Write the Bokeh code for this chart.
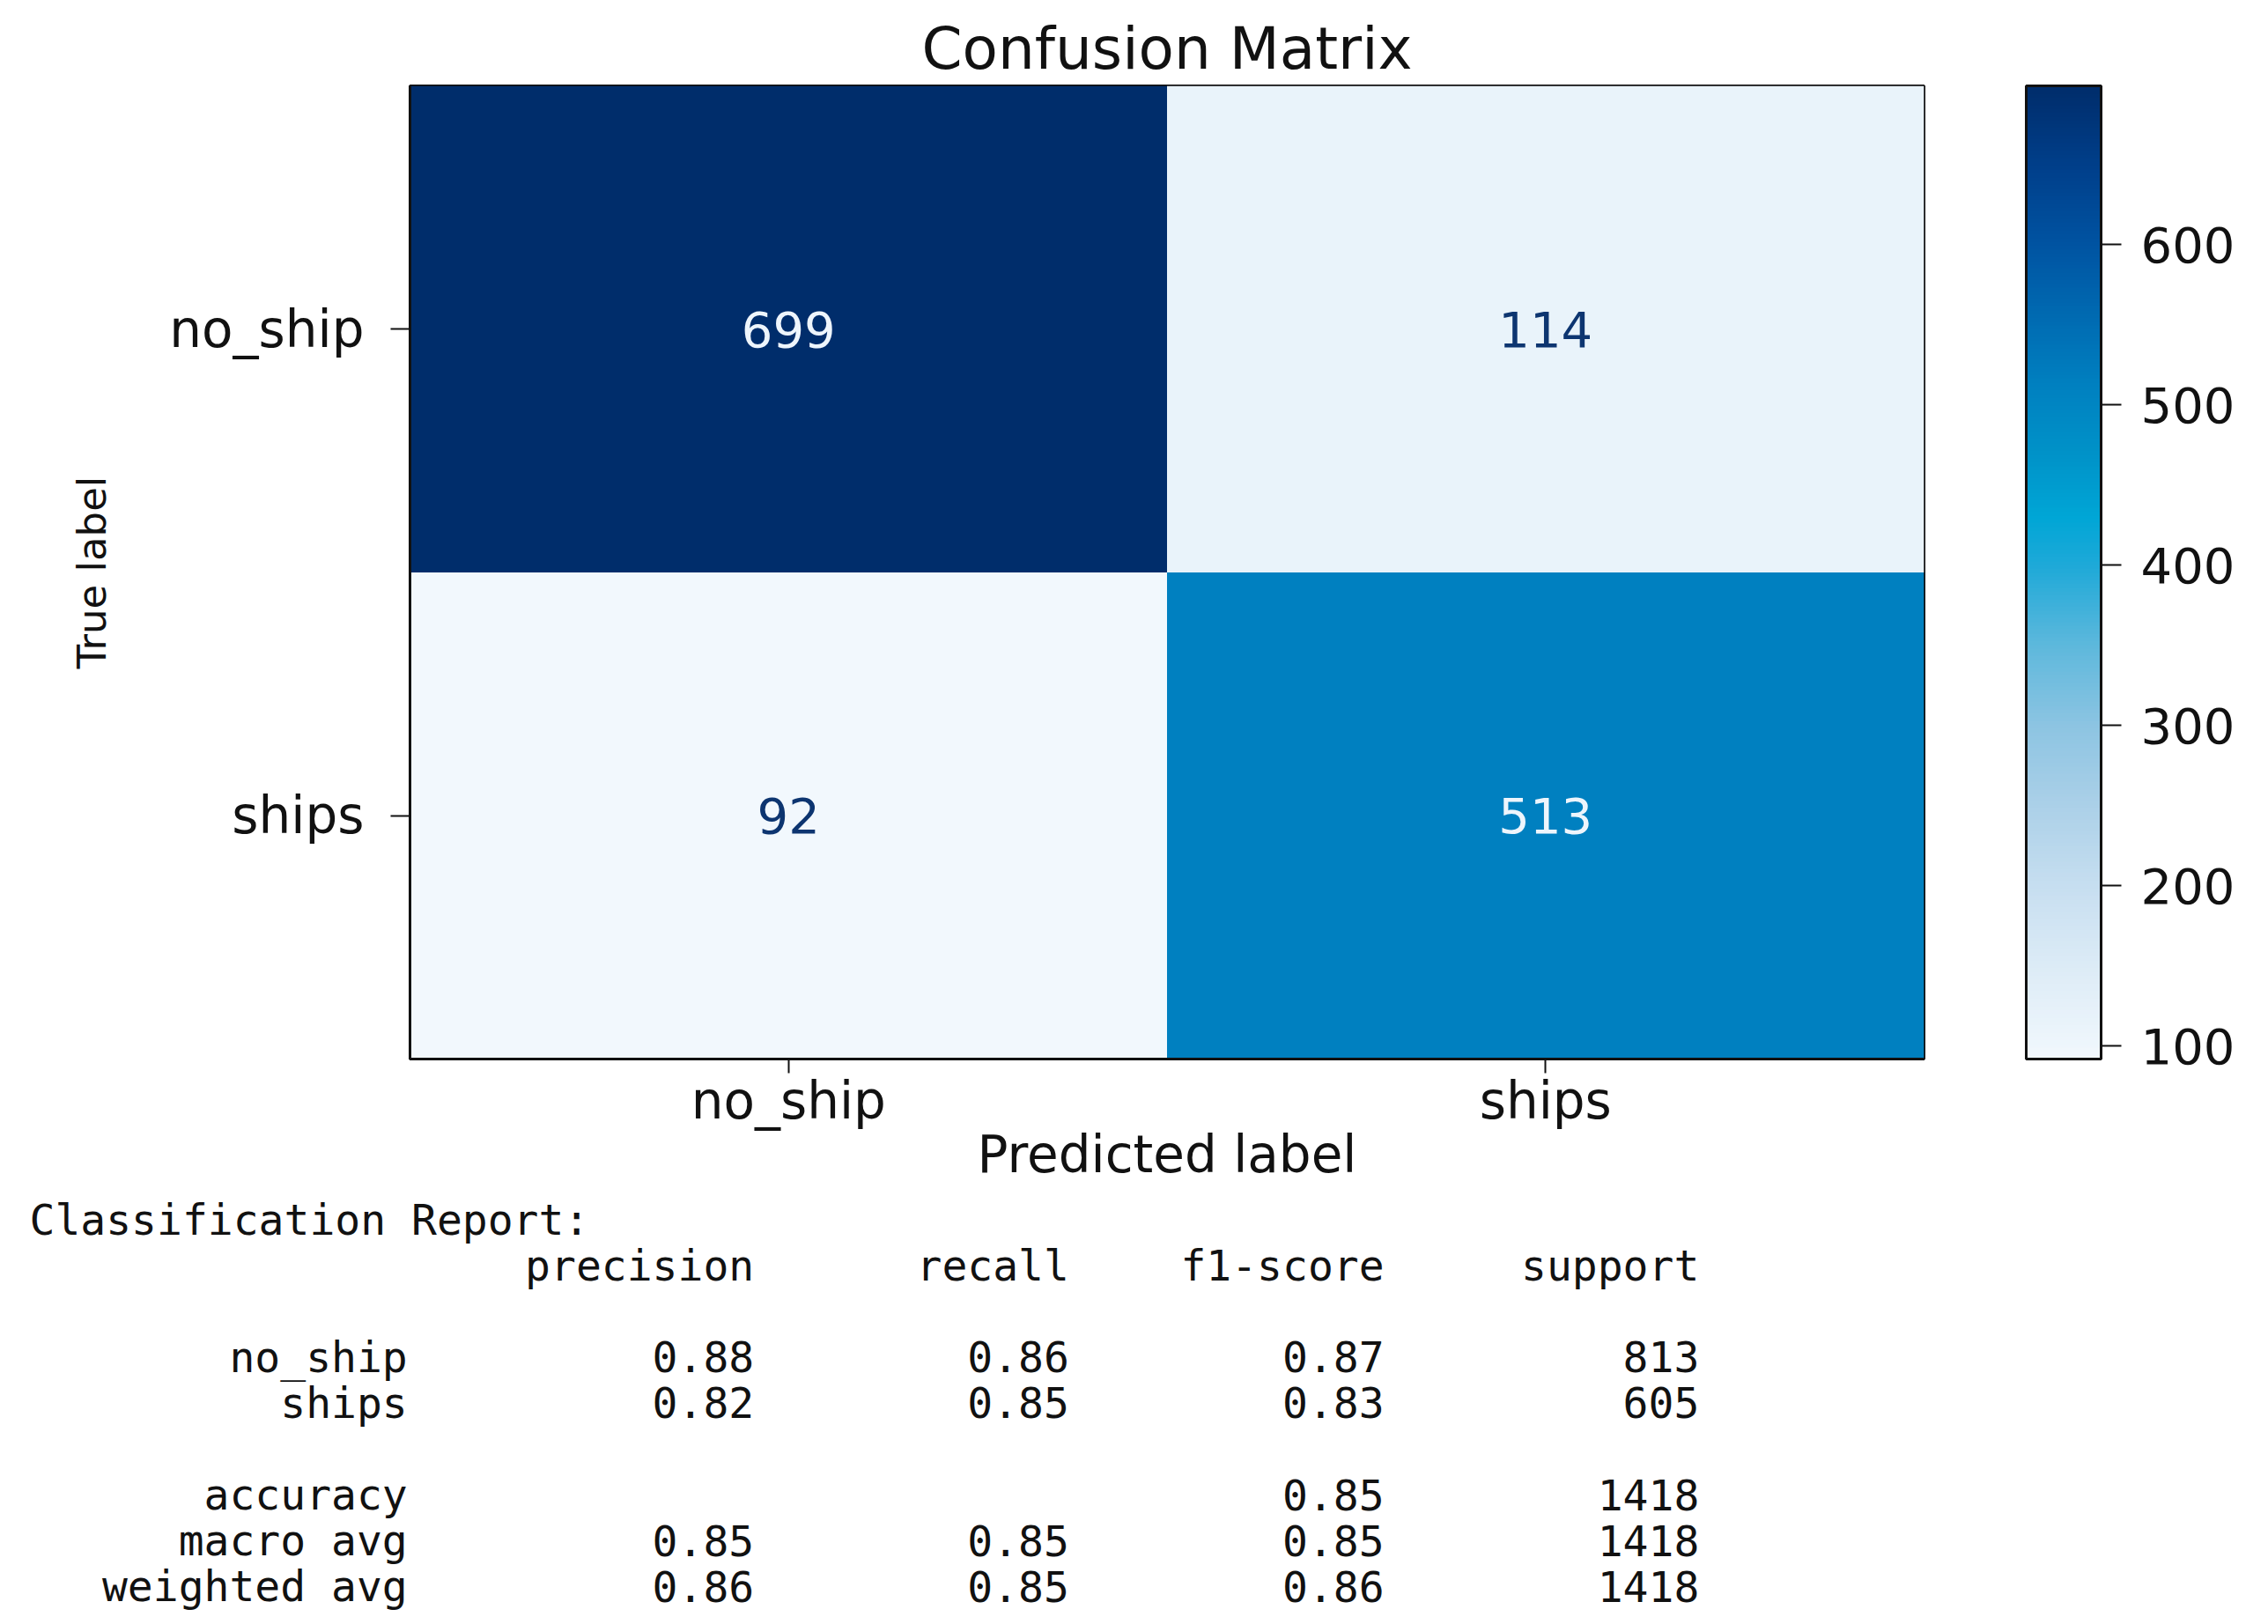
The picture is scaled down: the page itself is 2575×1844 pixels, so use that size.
import numpy as np
from bokeh.plotting import figure
from bokeh.models import (FactorRange, LinearColorMapper, ColorBar, FixedTicker,
                          ColumnDataSource, Range1d)
from bokeh.layouts import column, row
from bokeh.embed import file_html
from bokeh.resources import INLINE
from bokeh.core.properties import value

# ---------------- data ----------------
classes = ["no_ship", "ships"]
true_labels = ["no_ship", "no_ship", "ships", "ships"]
pred_labels = ["no_ship", "ships", "no_ship", "ships"]
counts = [699, 114, 92, 513]
cbar_ticks = [100, 200, 300, 400, 500, 600]

report_title = "Classification Report:"
report_headers = ["precision", "recall", "f1-score", "support"]
report_rows = ["no_ship", "ships", "accuracy", "macro avg", "weighted avg"]
report_line = [3, 4, 6, 7, 8]
precision = [0.88, 0.82, None, 0.85, 0.86]
recall = [0.86, 0.85, None, 0.85, 0.85]
f1_score = [0.87, 0.83, 0.85, 0.85, 0.86]
support = [813, 605, 1418, 1418, 1418]

# ---------------- colours ----------------
anchors = [(92, "#f2f8fd"), (100, "#eef6fc"), (150, "#dcebf6"), (200, "#c6def0"),
           (250, "#abd0e8"), (300, "#8cc4e2"), (350, "#5db8dc"), (400, "#1ea9d8"),
           (430, "#00a6d6"), (470, "#0092c8"), (513, "#0080c0"), (560, "#0068b0"),
           (600, "#0054a2"), (650, "#003f8a"), (699, "#002d6b")]
lo, hi = min(counts), max(counts)
av = [a[0] for a in anchors]
rgb = np.array([[int(c[i:i + 2], 16) for i in (1, 3, 5)] for _, c in anchors], dtype=float)
vals = np.linspace(lo, hi, 256)
palette = ["#%02x%02x%02x" % tuple(int(round(np.interp(v, av, rgb[:, k]))) for k in range(3))
           for v in vals]
mapper = LinearColorMapper(palette=palette, low=lo, high=hi)

thresh = (lo + hi) / 2.0
text_colors = ["#eef5fc" if c > thresh else "#0d3570" for c in counts]

FONT = value("DejaVu Sans")
MONO = value("DejaVu Sans Mono")
INK = "#111111"

src = ColumnDataSource(dict(pred=pred_labels, true=true_labels, count=counts,
                            label=[str(c) for c in counts], tcolor=text_colors))

P_H = 1350
p = figure(width=2567, height=P_H,
           x_range=FactorRange(*classes), y_range=FactorRange(*classes[::-1]),
           output_backend="svg", toolbar_location=None,
           min_border_left=465, min_border_right=383, min_border_top=97,
           min_border_bottom=148, title="Confusion Matrix")

p.rect(x="pred", y="true", width=1, height=1, source=src,
       fill_color={"field": "count", "transform": mapper}, line_color=None)
p.text(x="pred", y="true", text="label", text_color="tcolor", source=src,
       text_align="center", text_baseline="middle", text_font=FONT,
       text_font_size="56px")

p.title.align = "center"
p.title.text_font = "DejaVu Sans"
p.title.text_font_size = "66px"
p.title.text_font_style = "normal"
p.title.text_color = INK
p.title.standoff = 8

p.grid.grid_line_color = None
p.outline_line_color = INK
p.outline_line_width = 3
p.background_fill_color = "white"
p.border_fill_color = "white"

for ax in (p.xaxis[0], p.yaxis[0]):
    ax.axis_line_color = INK
    ax.axis_line_width = 3
    ax.major_tick_in = 0
    ax.major_tick_line_color = INK
    ax.major_tick_line_width = 2
    ax.major_label_text_font = "DejaVu Sans"
    ax.major_label_text_font_size = "58px"
    ax.major_label_text_color = INK
    ax.axis_label_text_font = "DejaVu Sans"
    ax.axis_label_text_font_style = "normal"
    ax.axis_label_text_color = INK

p.xaxis.axis_label = "Predicted label"
p.xaxis.axis_label_text_font_size = "58px"
p.xaxis.major_tick_out = 16
p.xaxis.major_label_standoff = -3
p.xaxis.axis_label_standoff = -10

p.yaxis.axis_label = "True label"
p.yaxis.axis_label_text_font_size = "45px"
p.yaxis.major_tick_out = 22
p.yaxis.major_label_standoff = 30
p.yaxis.axis_label_standoff = 58

cb = ColorBar(color_mapper=mapper, ticker=FixedTicker(ticks=cbar_ticks),
              width=85, height=1105, location=(116, 0), margin=0, padding=0,
              major_tick_out=23, major_tick_in=0, major_tick_line_color=INK,
              major_tick_line_width=2, minor_tick_line_color=None,
              label_standoff=22, major_label_text_font="DejaVu Sans",
              major_label_text_font_size="56px", major_label_text_color=INK,
              bar_line_color=INK, bar_line_width=3,
              border_line_color=None, background_fill_color=None)
p.add_layout(cb, "right")

# ---------------- classification report ----------------
Q_H = 1836 - P_H
char_px = 35.77
line_px = 52.1
x0_px, y0_px = 33, 1384
xs = -x0_px / char_px
ys = -(y0_px - P_H) / line_px
q = figure(width=2567, height=Q_H, x_range=Range1d(xs, xs + 2567 / char_px),
           y_range=Range1d(ys + Q_H / line_px, ys), output_backend="svg",
           toolbar_location=None, x_axis_location=None, y_axis_location=None,
           min_border=0)
q.grid.grid_line_color = None
q.outline_line_color = None
q.border_fill_color = "white"

common = dict(text_font=MONO, text_font_size="48px", text_color=INK,
              text_baseline="middle")
q.text(x=[0], y=[0], text=[report_title], text_align="left", **common)
q.text(x=[23, 33, 43, 53], y=[1] * 4, text=report_headers, text_align="right", **common)

fmt = lambda v: "" if v is None else "%.2f" % v
rsrc = ColumnDataSource(dict(
    line=report_line, name=report_rows,
    prec=[fmt(v) for v in precision], rec=[fmt(v) for v in recall],
    f1=[fmt(v) for v in f1_score], sup=[str(v) for v in support],
    x0=[12] * 5, x1=[23] * 5, x2=[33] * 5, x3=[43] * 5, x4=[53] * 5))
for xcol, tcol in (("x0", "name"), ("x1", "prec"), ("x2", "rec"), ("x3", "f1"), ("x4", "sup")):
    q.text(x=xcol, y="line", text=tcol, source=rsrc, text_align="right", **common)

layout = column(p, row(q), spacing=0)
open("out.html", "w").write(file_html(layout, INLINE))
